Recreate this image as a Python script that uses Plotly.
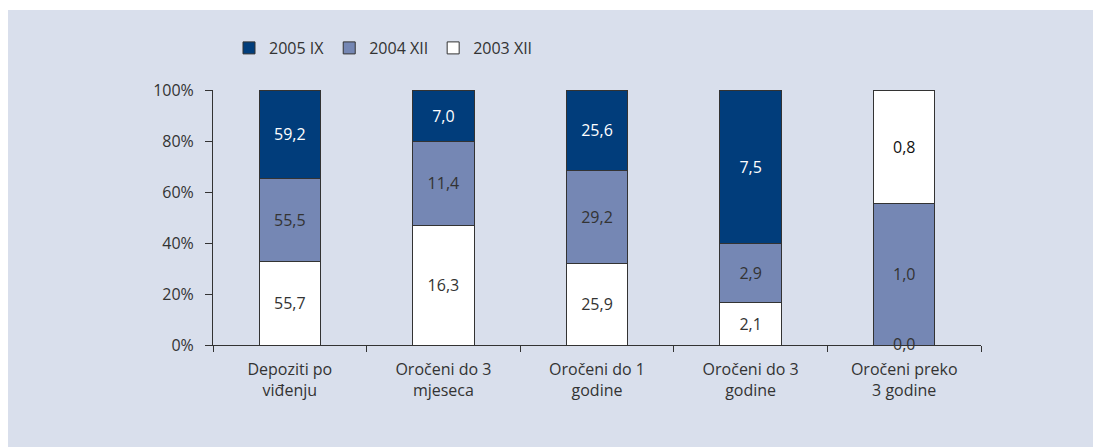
import plotly.graph_objects as go

categories = ["Depoziti po<br>viđenju", "Oročeni do 3<br>mjeseca", "Oročeni do 1<br>godine",
              "Oročeni do 3<br>godine", "Oročeni preko<br>3 godine"]
series_names = ["2003 XII", "2004 XII", "2005 IX"]
v2003 = [55.7, 16.3, 25.9, 2.1, 0.0]
v2004 = [55.5, 11.4, 29.2, 2.9, 1.0]
v2005 = [59.2, 7.0, 25.6, 7.5, 0.8]
y_ticks = [0, 20, 40, 60, 80, 100]

NAVY = "#013D7B"
GREYBLUE = "#7587B4"
WHITE = "#FFFFFF"
BG = "#D9DFEC"
DARK = "#333333"
FONT = "Open Sans, Noto Sans, sans-serif"


def fmt(v):
    return f"{v:.1f}".replace(".", ",")


fig = go.Figure()

fig.add_trace(go.Bar(
    x=categories, y=v2003, name=series_names[0],
    marker=dict(color=WHITE, line=dict(color=DARK, width=1)),
    text=[fmt(v) if v > 0 else "" for v in v2003],
    textposition="inside", insidetextanchor="middle",
    textfont=dict(color=DARK, size=16, family=FONT),
))
fig.add_trace(go.Bar(
    x=categories, y=v2004, name=series_names[1],
    marker=dict(color=GREYBLUE, line=dict(color=DARK, width=1)),
    text=[fmt(v) for v in v2004],
    textposition="inside", insidetextanchor="middle",
    textfont=dict(color=DARK, size=16, family=FONT),
))
top_colors = [NAVY] * (len(v2005) - 1) + [WHITE]
top_text_colors = [WHITE] * (len(v2005) - 1) + ["#111111"]
fig.add_trace(go.Bar(
    x=categories, y=v2005, name=series_names[2],
    marker=dict(color=top_colors, line=dict(color=DARK, width=1)),
    text=[fmt(v) for v in v2005],
    textposition="inside", insidetextanchor="middle",
    textfont=dict(color=top_text_colors, size=16, family=FONT),
))

for c, v in zip(categories, v2003):
    if v == 0:
        fig.add_annotation(x=c, y=0, text=fmt(v), showarrow=False, yshift=1,
                           font=dict(color=DARK, size=16, family=FONT))

W, H = 1101, 447
ML, MR, MT, MB = 205, 128, 82, 110
pw = W - ML - MR
ph = H - MT - MB

fig.add_shape(type="rect", xref="paper", yref="paper", layer="below",
              x0=-ML / pw, x1=(W + 5 - ML) / pw,
              y0=-(MB + 5) / ph, y1=1 + (MT - 2) / ph,
              fillcolor=BG, line=dict(width=0))

fig.update_layout(
    width=W, height=H,
    margin=dict(l=ML, r=MR, t=MT, b=MB, autoexpand=False),
    barmode="stack", barnorm="percent", bargap=0.6,
    paper_bgcolor="white", plot_bgcolor=BG,
    font=dict(family=FONT, size=16, color=DARK),
    showlegend=True,
    legend=dict(orientation="h", traceorder="reversed", x=(221 - ML) / pw, xanchor="left",
                y=1 + (82 - 40) / ph, yanchor="middle",
                bgcolor="rgba(0,0,0,0)", font=dict(size=16, color=DARK, family=FONT),
                itemwidth=30),
    xaxis=dict(showline=True, linecolor=DARK, linewidth=1, ticks="outside",
               tickson="boundaries", ticklen=6, tickcolor=DARK, showgrid=False,
               ticklabelstandoff=10, tickfont=dict(size=16, color=DARK)),
    yaxis=dict(range=[0, 100], tickvals=y_ticks, ticktext=[f"{t}%" for t in y_ticks],
               showline=True, linecolor=DARK, linewidth=1, ticks="outside", ticklen=7,
               tickcolor=DARK, showgrid=False, zeroline=False, ticklabelstandoff=8,
               tickfont=dict(size=16, color=DARK)),
    uniformtext=dict(minsize=14, mode="show"),
)

fig.write_html("out.html")
